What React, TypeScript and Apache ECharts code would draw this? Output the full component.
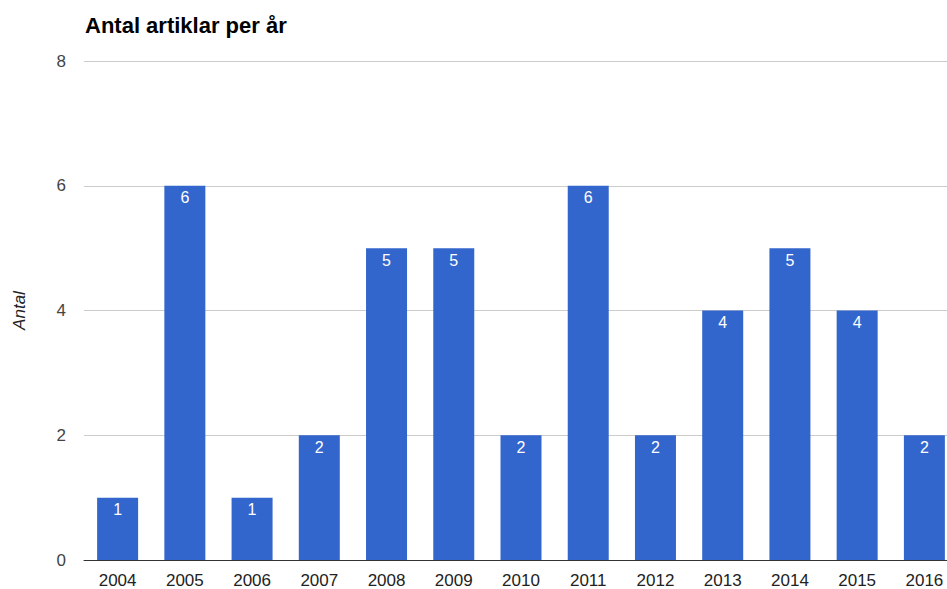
import React, { useEffect, useRef } from "react";
import * as echarts from "echarts";

const years = ["2004", "2005", "2006", "2007", "2008", "2009", "2010", "2011", "2012", "2013", "2014", "2015", "2016"];
const counts = [1, 6, 1, 2, 5, 5, 2, 6, 2, 4, 5, 4, 2];
const yTicks = [0, 2, 4, 6, 8];

const FONT = "Liberation Sans, Arial, sans-serif";

export default function App() {
  const ref = useRef<HTMLDivElement>(null);
  useEffect(() => {
    document.body.style.margin = "0";
    const chart = echarts.init(ref.current!, null, { renderer: "svg" });
    chart.setOption({
      animation: false,
      textStyle: { fontFamily: FONT },
      title: {
        text: "Antal artiklar per år",
        left: 80,
        top: 9,
        textStyle: { fontSize: 22, fontWeight: "bold", color: "#000", fontFamily: FONT },
      },
      grid: { left: 84, right: 0, top: 61, bottom: 24 },
      xAxis: {
        type: "category",
        data: years,
        axisLine: { show: true, lineStyle: { color: "#333", width: 1 } },
        axisTick: { show: false },
        axisLabel: { color: "#222", fontSize: 17, margin: 12 },
      },
      yAxis: {
        type: "value",
        min: yTicks[0],
        max: yTicks[yTicks.length - 1],
        interval: 2,
        name: "Antal",
        nameLocation: "middle",
        nameGap: 56,
        nameTextStyle: { fontStyle: "italic", color: "#222", fontSize: 17 },
        axisLine: { show: false },
        axisTick: { show: false },
        axisLabel: { color: "#444", fontSize: 17, margin: 18 },
        splitLine: { lineStyle: { color: "#ccc", width: 1 } },
      },
      series: [
        {
          type: "bar",
          data: counts,
          barWidth: 41,
          itemStyle: { color: "#3366cc" },
          label: {
            show: true,
            position: "insideTop",
            distance: 4,
            color: "#fff",
            fontSize: 16,
          },
        },
      ],
    });
    return () => chart.dispose();
  }, []);
  return (
    <div style={{ width: 947, height: 589, overflow: "hidden", position: "relative" }}>
      <div ref={ref} style={{ width: 958, height: 589, position: "absolute", left: 0, top: 0 }} />
    </div>
  );
}
